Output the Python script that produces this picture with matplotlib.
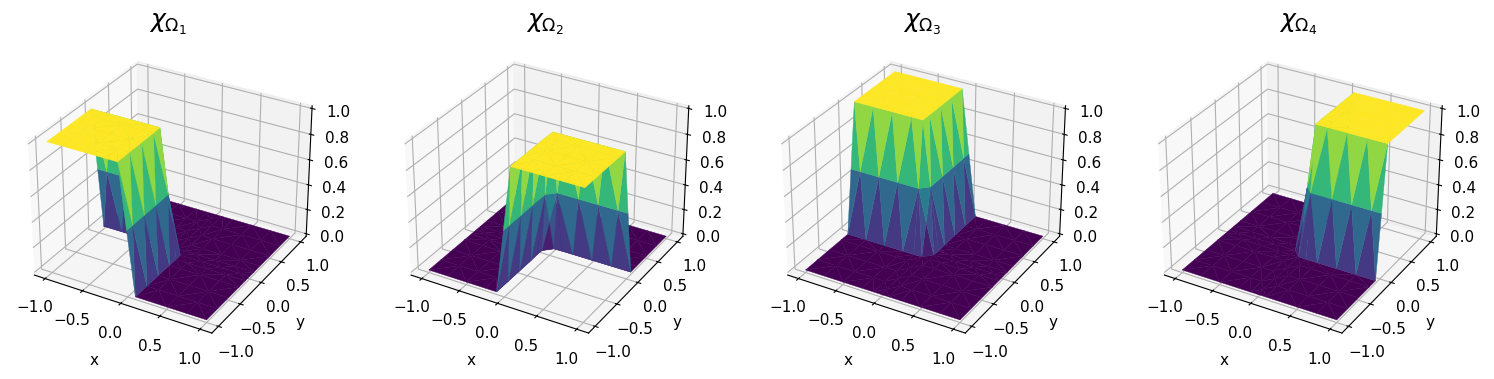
import matplotlib
matplotlib.use('Agg')
import matplotlib.pyplot as plt
from matplotlib.tri import Triangulation
import numpy as np

# mesh rows, from y = -1 up to y = 1 (thin layer around the interfaces x = 0 and y = 0)
edge_x = [-1, -0.75, -0.5, -0.25, -0.1, 0, 0.1, 0.25, 0.5, 0.75, 1]
inner_x = [-1, -0.75, -0.5, -0.25, -0.1, 0.1, 0.25, 0.5, 0.75, 1]
corner_x = [-1, -0.75, -0.5, -0.25, -0.104, 0.104, 0.25, 0.5, 0.75, 1]
mid_x = [-1, -0.875, -0.625, -0.375, -0.1, 0, 0.1, 0.375, 0.625, 0.875, 1]
axis_x = [0]

row_y = [-1, -0.875, -0.75, -0.625, -0.5, -0.375, -0.25, -0.104, -0.1, 0,
         0.1, 0.104, 0.25, 0.375, 0.5, 0.625, 0.75, 0.875, 1]
row_x = [edge_x, axis_x, inner_x, axis_x, inner_x, axis_x, inner_x, corner_x, axis_x, mid_x,
         axis_x, corner_x, inner_x, axis_x, inner_x, axis_x, inner_x, axis_x, edge_x]

# nodal values, row by row
edge_left = [1, 1, 1, 1, 1, 0.5, 0, 0, 0, 0, 0]
edge_right = [0, 0, 0, 0, 0, 0.5, 1, 1, 1, 1, 1]
edge_zero = [0, 0, 0, 0, 0, 0, 0, 0, 0, 0, 0]
inner_left = [1, 1, 1, 1, 1, 0, 0, 0, 0, 0]
inner_right = [0, 0, 0, 0, 0, 1, 1, 1, 1, 1]
inner_zero = [0, 0, 0, 0, 0, 0, 0, 0, 0, 0]
mid_left = [0.5, 0.5, 0.5, 0.5, 0.5, 0.25, 0, 0, 0, 0, 0]
mid_right = [0, 0, 0, 0, 0, 0.25, 0.5, 0.5, 0.5, 0.5, 0.5]
half = [0.5]
zero = [0]

chi_1 = [edge_left, half, inner_left, half, inner_left, half, inner_left, inner_left, half, mid_left,
         zero, inner_zero, inner_zero, zero, inner_zero, zero, inner_zero, zero, edge_zero]
chi_2 = [edge_right, half, inner_right, half, inner_right, half, inner_right, inner_right, half, mid_right,
         zero, inner_zero, inner_zero, zero, inner_zero, zero, inner_zero, zero, edge_zero]
chi_3 = [edge_zero, zero, inner_zero, zero, inner_zero, zero, inner_zero, inner_zero, zero, mid_left,
         half, inner_left, inner_left, half, inner_left, half, inner_left, half, edge_left]
chi_4 = [edge_zero, zero, inner_zero, zero, inner_zero, zero, inner_zero, inner_zero, zero, mid_right,
         half, inner_right, inner_right, half, inner_right, half, inner_right, half, edge_right]

panels = [chi_1, chi_2, chi_3, chi_4]
titles = [r'$\chi_{\Omega_1}$', r'$\chi_{\Omega_2}$', r'$\chi_{\Omega_3}$', r'$\chi_{\Omega_4}$']

x = np.concatenate(row_x).astype(float)
y = np.concatenate([[v] * len(r) for v, r in zip(row_y, row_x)]).astype(float)


# connectivity comes from a Delaunay on stretched coords, so the thin layer keeps its rows
def stretch(v):
    return np.interp(v, [-1, -0.25, -0.1, 0.1, 0.25, 1], [-1.25, -0.5, -0.25, 0.25, 0.5, 1.25])


triangles = Triangulation(stretch(x), stretch(y)).triangles

plt.rcParams['font.size'] = 11
fig = plt.figure(figsize=(14.94, 3.79), dpi=100)
W, H = 1494, 379
side = 316
for i, (rows, title) in enumerate(zip(panels, titles)):
    ax = fig.add_axes([(10.5 + i * 376.7) / W, 1 - (37 + side) / H, side / W, side / H], projection='3d')
    surf = ax.plot_trisurf(x, y, np.concatenate(rows).astype(float), triangles=triangles, cmap='viridis',
                           linewidth=0.3)
    surf.set_edgecolor('face')
    ax.set_xlabel('x', labelpad=8)
    ax.set_ylabel('y', labelpad=5)
    ax.set_title(title, fontsize=18, pad=5)

fig.savefig('out.png', dpi=100)
